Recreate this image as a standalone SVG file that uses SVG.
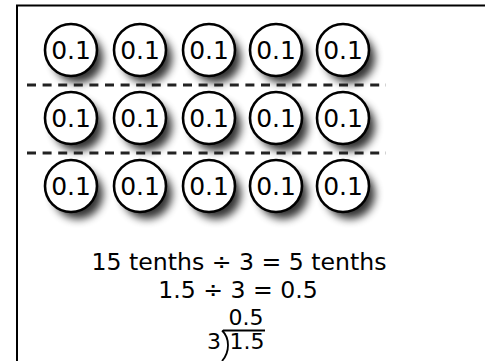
<svg xmlns="http://www.w3.org/2000/svg" width="485" height="361" viewBox="0 0 485 361">
<defs>
<filter id="sh" x="-50%" y="-50%" width="200%" height="200%">
<feGaussianBlur stdDeviation="4.5"/>
</filter>
<g id="coin">
<circle cx="7" cy="8" r="25" fill="#000" opacity="0.8" filter="url(#sh)"/>
<circle cx="0" cy="0" r="26" fill="#fff" stroke="#000" stroke-width="2.6"/>
<text x="0" y="9" class="c">0.1</text>
</g>
</defs>
<style>
.c{font-family:"DejaVu Sans",Verdana,sans-serif;font-size:25px;text-anchor:middle;fill:#000}
.t{font-family:"DejaVu Sans",Verdana,sans-serif;font-size:23.6px;text-anchor:middle;fill:#000}
.d{font-family:"DejaVu Sans",Verdana,sans-serif;font-size:22px;text-anchor:middle;fill:#000}
.dash{stroke:#222;stroke-width:3;stroke-dasharray:9 6.6;fill:none}
</style>
<rect width="485" height="361" fill="#fff"/>
<g id="frame" fill="none" stroke="#000" stroke-width="2">
<path d="M17,361 V5.5 H485"/>
</g>
<g id="row1">
<use href="#coin" x="71" y="50"/><use href="#coin" x="140" y="50"/><use href="#coin" x="209" y="50"/><use href="#coin" x="276" y="50"/><use href="#coin" x="343" y="50"/>
</g>
<g id="row2">
<use href="#coin" x="71" y="118"/><use href="#coin" x="140" y="118"/><use href="#coin" x="209" y="118"/><use href="#coin" x="276" y="118"/><use href="#coin" x="343" y="118"/>
</g>
<g id="row3">
<use href="#coin" x="71" y="186"/><use href="#coin" x="140" y="186"/><use href="#coin" x="209" y="186"/><use href="#coin" x="276" y="186"/><use href="#coin" x="343" y="186"/>
</g>
<g id="dividers">
<line class="dash" x1="27" y1="85" x2="386" y2="85"/>
<line class="dash" x1="27" y1="153" x2="386" y2="153"/>
</g>
<g id="equations">
<text class="t" x="239" y="270">15 tenths ÷ 3 = 5 tenths</text>
<text class="t" x="238" y="298">1.5 ÷ 3 = 0.5</text>
<text class="d" x="246" y="325">0.5</text>
<text class="d" x="214" y="349">3</text>
<text class="d" x="247" y="349">1.5</text>
<path d="M223,330.5 H265 M222,330.5 C230,338 230,352 222,361" fill="none" stroke="#000" stroke-width="1.8"/>
</g>
</svg>
